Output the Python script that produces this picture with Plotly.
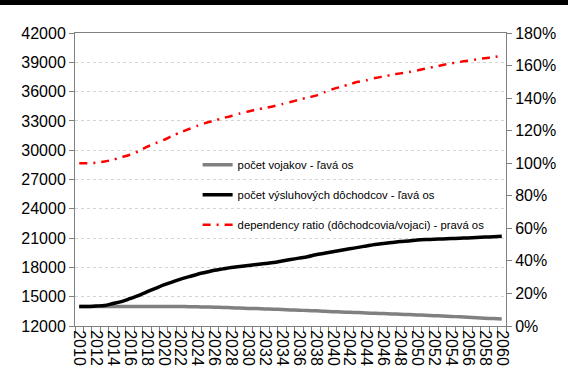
import plotly.graph_objects as go

years = list(range(2010, 2061))

vojaci = [14000, 14000, 14000, 14000, 14000, 14000, 14000, 14000, 14000, 14000,
          14000, 14000, 14000, 13980, 13960, 13950, 13930, 13900, 13870, 13840,
          13800, 13780, 13750, 13720, 13690, 13650, 13620, 13580, 13550, 13500,
          13470, 13440, 13400, 13370, 13330, 13300, 13270, 13240, 13200, 13170,
          13130, 13100, 13060, 13020, 12980, 12940, 12900, 12850, 12800, 12760,
          12720]

dochodcovia = [14000, 14000, 14050, 14100, 14300, 14500, 14800, 15100, 15500, 15850,
               16200, 16500, 16800, 17050, 17300, 17500, 17700, 17850, 18000, 18100,
               18200, 18300, 18400, 18500, 18650, 18800, 18950, 19100, 19300, 19450,
               19600, 19750, 19900, 20050, 20200, 20350, 20450, 20550, 20650, 20700,
               20800, 20850, 20880, 20920, 20950, 20980, 21020, 21060, 21100, 21150,
               21200]

ratio = [100, 100, 100.3, 101, 102.2, 103.7, 105.2, 107.3, 110, 112.2,
         114.3, 116.8, 119, 121, 123, 124.8, 126.2, 127.7, 129, 130.5,
         131.8, 133, 134, 135, 136.3, 137.6, 139, 140.3, 141.5, 143.5,
         145.5, 147, 148.5, 150, 151, 152.3, 153.3, 154.3, 155.2, 156,
         157, 158.2, 159.2, 160.3, 161.3, 162.2, 163, 163.8, 164.5, 165.2,
         166]

left_ticks = list(range(12000, 42001, 3000))
right_ticks = list(range(0, 181, 20))
x_labels = list(range(2010, 2061, 2))

FONT = "Liberation Sans, Arial, sans-serif"

fig = go.Figure()
fig.add_trace(go.Scatter(x=years, y=vojaci, mode="lines", name="počet vojakov - ľavá os",
                         line=dict(color="#808080", width=3.5, shape="spline", smoothing=0.8),
                         legendgroup="a"))
fig.add_trace(go.Scatter(x=years, y=dochodcovia, mode="lines", name="počet výsluhových dôchodcov - ľavá os",
                         line=dict(color="#000000", width=3.5, shape="spline", smoothing=0.8),
                         legendgroup="b"))
fig.add_trace(go.Scatter(x=years, y=ratio, mode="lines", yaxis="y2",
                         name="dependency ratio (dôchodcovia/vojaci) - pravá os",
                         line=dict(color="#ff0000", width=2.5, dash="8px,6px,2px,6px",
                                   shape="spline", smoothing=0.8),
                         legendgroup="c"))

fig.update_layout(
    width=568, height=385,
    margin=dict(l=75, r=50, t=33, b=59),
    paper_bgcolor="white", plot_bgcolor="white",
    font=dict(family=FONT, color="#000000", size=16),
    showlegend=True,
    legend=dict(x=0.2845, y=0.6, xanchor="left", yanchor="top",
                bgcolor="rgba(0,0,0,0)", font=dict(size=11.3, color="#000"),
                traceorder="grouped", tracegroupgap=11, itemwidth=30),
    xaxis=dict(range=[2009.5, 2060.5], tickvals=x_labels, ticktext=[str(v) for v in x_labels],
               tickangle=90, ticks="", showgrid=False, zeroline=False,
               showline=True, linecolor="#808080", linewidth=1, mirror=True,
               tickfont=dict(size=16),
               minor=dict(tick0=2009.5, dtick=1, ticks="outside", ticklen=6,
                          tickcolor="#808080", showgrid=False)),
    yaxis=dict(range=[12000, 42000], tickvals=left_ticks, ticktext=[str(v) for v in left_ticks],
               ticks="outside", ticklen=5,
               tickcolor="#808080", showline=True, linecolor="#808080", linewidth=1,
               showgrid=True, gridcolor="#d4d4d4", griddash="dot", gridwidth=1,
               zeroline=False, tickfont=dict(size=16)),
    yaxis2=dict(range=[0, 180], tickvals=right_ticks, ticktext=[f"{v}%" for v in right_ticks],
                overlaying="y", side="right", ticks="outside", ticklen=5,
                tickcolor="#808080", showline=True, linecolor="#808080", linewidth=1,
                showgrid=False, zeroline=False, tickfont=dict(size=16)),
    shapes=[dict(type="rect", xref="paper", yref="paper", x0=-0.2, x1=1.2,
                 y0=1 + 28 / 293, y1=1 + 40 / 293, fillcolor="black", line=dict(width=0),
                 layer="above")],
)

fig.write_html("out.html", config={"displayModeBar": False},
               post_script="document.body.style.margin='0';document.body.style.padding='0';")
